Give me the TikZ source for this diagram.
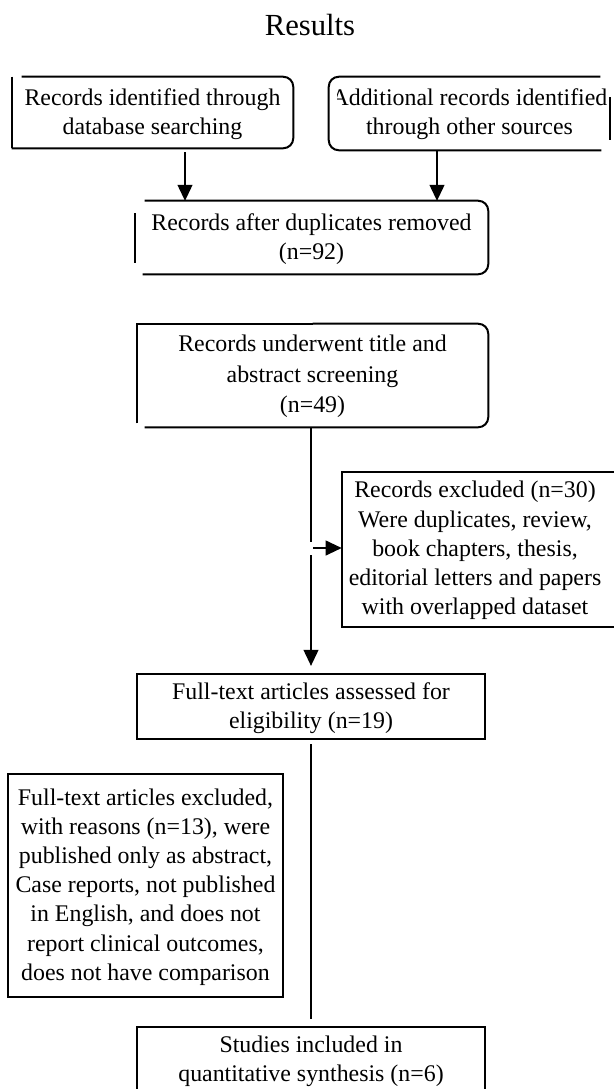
\documentclass[tikz,border=0pt]{standalone}
\usepackage{fontspec}
\setmainfont{Liberation Serif}
\usetikzlibrary{arrows.meta,calc}
\begin{document}
\begin{tikzpicture}[x=0.75pt,y=-0.75pt,
  bx/.style={draw=none, align=center, inner sep=0pt, font=\fontsize{17.9}{21.9}\selectfont},
  ln/.style={line width=1.5pt},
  arr/.style={ln, -{Triangle[length=12pt,width=11pt]}},
  rc/.style={ln, rounded corners=7.5pt}]
\useasboundingbox (0,0) rectangle (614,1089);

\node[font=\fontsize{23}{27}\selectfont] (title) at (310,25) {Results};

% nodes
\node[bx, minimum width=210.75pt, minimum height=53.25pt] (b1) at (152.5,114) {Records identified through\\database searching};
\begin{scope}
  \clip (337,60) rectangle (614,170);
  \node[bx, minimum width=210.75pt, minimum height=54.75pt] (b2) at (469.5,114.5) {Additional records identified\\through other sources};
\end{scope}
\node[bx, minimum width=264.75pt, minimum height=54.75pt] (b3) at (311.5,239) {Records after duplicates removed\\(n=92)};
\node[bx, font=\fontsize{17.9}{22.9}\selectfont, minimum width=263.25pt, minimum height=77.25pt] (b4) at (312.5,376.5) {Records underwent title and\\abstract screening\\(n=49)};
\node[bx, minimum width=199.5pt, minimum height=116.25pt] (b5) at (475,550.5) {Records excluded (n=30)\\Were duplicates, review,\\book chapters, thesis,\\editorial letters and papers\\with overlapped dataset};
\node[bx, minimum width=261pt, minimum height=48.75pt] (b6) at (311,708) {Full-text articles assessed for\\eligibility (n=19)};
\node[bx, minimum width=206.25pt, minimum height=167.25pt] (b7) at (145.5,887) {Full-text articles excluded,\\with reasons (n=13), were\\published only as abstract,\\Case reports, not published\\in English, and does not\\report clinical outcomes,\\does not have comparison};
\node[bx, minimum width=261pt, minimum height=48.75pt] (b8) at (311,1061) {Studies included in\\quantitative synthesis (n=6)};

% borders (boxes drawn from node anchors, shifted back to the reference frame)
\draw[ln] ($(b1.north west)+(0,-1.5)$) -- ($(b1.south west)+(0,-1.5)$);
\draw[rc] ($(b1.north west)+(10,-1.5)$) -- ($(b1.north east)+(0,-1.5)$) -- ($(b1.south east)+(0,-1.5)$) -- ($(b1.south west)+(0,-1.5)$);

\draw[rc] ($(b2.north east)+(-10,-1)$) -- ($(b2.north west)+(0,-1)$) -- ($(b2.south west)+(0,-1)$) -- ($(b2.south east)+(-9,-1)$);
\draw[ln] ($(b2.east)+(0,-17.5)$) -- ($(b2.east)+(0,25.5)$);

\draw[rc] ($(b3.north west)+(10,-1.5)$) -- ($(b3.north east)+(0,-1.5)$) -- ($(b3.south east)+(0,-1.5)$) -- ($(b3.south west)+(8,-1.5)$);
\draw[ln] ($(b3.west)+(0,-26)$) -- ($(b3.west)+(0,24)$);

\draw[ln] ($(b4.south west)+(0,-5)$) -- ($(b4.north west)+(0,-1)$) -- ($(b4.north)+(0,-1)$);
\draw[rc] ($(b4.north)+(0,-1)$) -- ($(b4.north east)+(0,-1)$) -- ($(b4.south east)+(0,-1)$) -- ($(b4.south west)+(8,-1)$);

\begin{scope}
  \clip (0,0) rectangle (614,1089);
  \draw[ln] ($(b5.north east)+(10,-1)$) -- ($(b5.north west)+(0,-1)$) -- ($(b5.south west)+(0,-1)$) -- ($(b5.south east)+(10,-1)$);
  \draw[ln] ($(b8.south west)+(0,-1.5)$) rectangle ($(b8.north east)+(0,-1.5)$);
\end{scope}
\draw[ln] ($(b6.south west)+(0,-1.5)$) rectangle ($(b6.north east)+(0,-1.5)$);
\draw[ln] ($(b7.south west)+(0,-1.5)$) rectangle ($(b7.north east)+(0,-1.5)$);

% connectors
\coordinate (a1) at (185,0);
\coordinate (a2) at (437,0);
\draw[arr, shorten <=2pt, shorten >=1pt] (b1.south -| a1) -- (b3.north -| a1);
\draw[arr, shorten <=-1pt, shorten >=1pt] (b2.south -| a2) -- (b3.north -| a2);

\coordinate (g1) at (311,542);
\coordinate (g2) at (311,555);
\coordinate (s) at (313,548);
\draw[ln, shorten <=-1pt] (b4.south -| g1) -- (g1);
\draw[arr, shorten >=7pt] (g2) -- (b6.north -| g2);
\draw[arr] (s) -- (s -| b5.west);
\draw[ln, shorten <=2.5pt, shorten >=7pt] (b6.south) -- (b8.north);
\end{tikzpicture}
\end{document}
